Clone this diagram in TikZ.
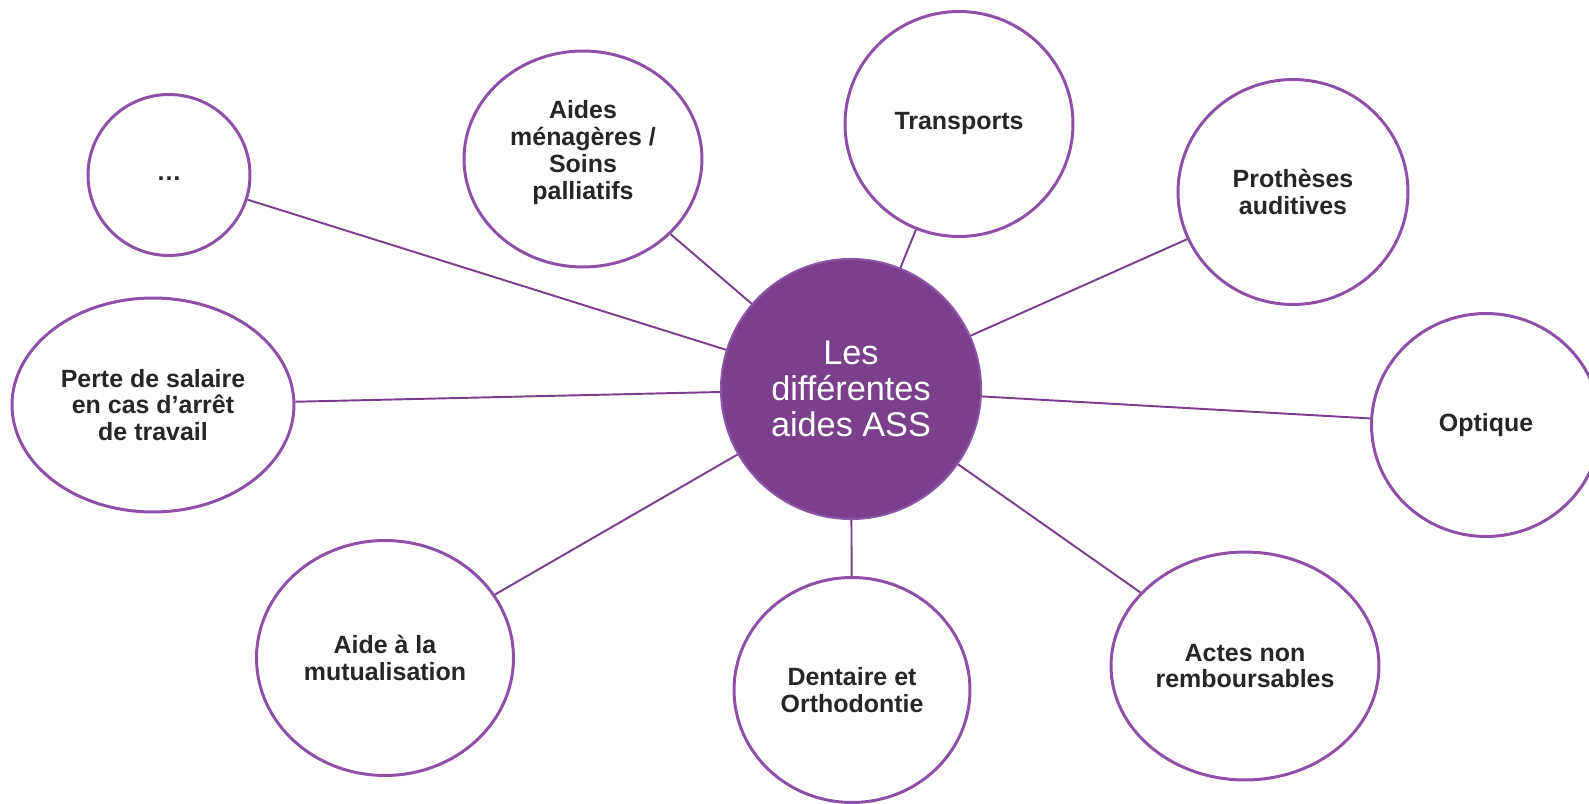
\documentclass[tikz,border=0pt]{standalone}
\usepackage{fontspec}
\setmainfont{Liberation Sans}
\usetikzlibrary{shapes.geometric}
\definecolor{ringpurple}{RGB}{142,80,166}
\definecolor{hubpurple}{RGB}{123,63,140}
\definecolor{hubedge}{RGB}{140,84,164}
\definecolor{linkpurple}{RGB}{122,62,140}
\definecolor{labelgray}{RGB}{38,38,38}

\begin{document}
\begin{tikzpicture}[x=0.02cm, y=-0.02cm,
    txt/.style = {align=center, text=labelgray, font=\fontsize{14.2}{15.2}\selectfont\bfseries},
    main/.style = {txt, draw=ringpurple, line width=1.7pt, ellipse, inner sep=0pt},
    hub/.style = {draw=hubedge, line width=1.2pt, fill=hubpurple, circle, inner sep=0pt,
        minimum size=5.2cm, align=center, text=white, font=\fontsize{19.5}{20.4}\selectfont},
    link/.style = {draw=linkpurple, line width=1.1pt}]
    \useasboundingbox (0,0) rectangle (1589,804);

    \node[hub] (1) at (851,389) {Les\\différentes\\aides ASS};
    \node[main, minimum width=3.24cm, minimum height=3.22cm] (2) at (169,175) {\raisebox{-0.11cm}[0pt][0pt]{…}};
    \node[main, minimum width=4.76cm, minimum height=4.32cm,
        label={[txt, yshift=0.13cm]center:{Aides\\ménagères /\\Soins\\palliatifs}}] (3) at (583,159) {};
    \node[main, minimum width=4.56cm, minimum height=4.50cm] (4) at (959,124) {Transports};
    \node[main, minimum width=4.60cm, minimum height=4.50cm] (5) at (1293,192) {Prothèses\\auditives};
    \node[main, minimum width=4.58cm, minimum height=4.46cm] (6) at (1486,425) {Optique};
    \node[main, minimum width=5.36cm, minimum height=4.56cm] (7) at (1245,666) {Actes non\\remboursables};
    \node[main, minimum width=4.72cm, minimum height=4.50cm] (8) at (852,690) {Dentaire et\\Orthodontie};
    \node[main, minimum width=5.14cm, minimum height=4.70cm] (9) at (385,658) {Aide à la\\mutualisation};
    \node[main, minimum width=5.64cm, minimum height=4.28cm] (10) at (153,405) {Perte de salaire\\en cas d’arrêt\\de travail};

    \draw[link] (1) -- (2);
    \draw[link] (1) -- (3);
    \draw[link] (1) -- (4);
    \draw[link] (1) -- (5);
    \draw[link] (1) -- (6);
    \draw[link] (1) -- (7);
    \draw[link] (1) -- (8);
    \draw[link] (1) -- (9);
    \draw[link] (1) -- (10);

\end{tikzpicture}
\end{document}
